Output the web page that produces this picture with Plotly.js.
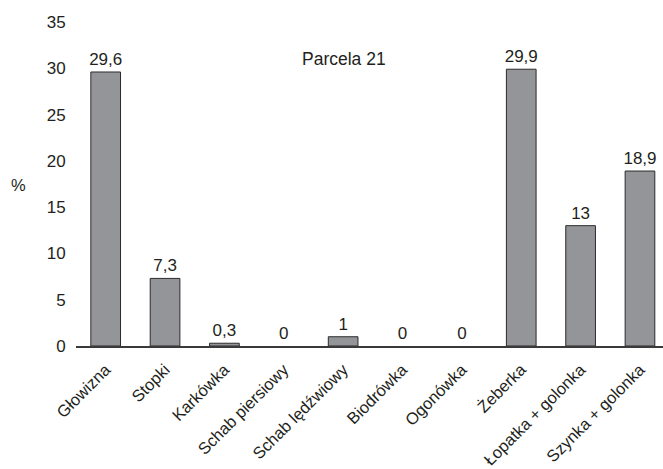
<!DOCTYPE html>
<html>
<head>
<meta charset="utf-8">
<script src="https://cdn.plot.ly/plotly-3.0.1.min.js"></script>
<style>html,body{margin:0;padding:0;background:#fff;}#chart{width:663px;height:469px;}</style>
</head>
<body>
<div id="chart"></div>
<script>
const categories = ["Głowizna","Stopki","Karkówka","Schab piersiowy","Schab lędźwiowy","Biodrówka","Ogonówka","Żeberka","Łopatka + golonka","Szynka + golonka"];
const values = [29.6, 7.3, 0.3, 0, 1, 0, 0, 29.9, 13, 18.9];
const yTicks = [0, 5, 10, 15, 20, 25, 30, 35];
const chartTitle = "Parcela 21";
const yLabel = "%";

const labels = values.map(v => String(v).replace('.', ','));
const idx = categories.map((c, i) => i);
const outlineWidths = values.map(v => v === 0 ? 0 : 1);

const trace = {
  type: 'bar',
  x: idx,
  y: values,
  text: labels,
  textposition: 'outside',
  constraintext: 'none',
  cliponaxis: false,
  textfont: {family: 'Liberation Sans, Arial, sans-serif', size: 17, color: '#231f20'},
  marker: {color: '#939598', line: {color: '#2b2b2b', width: outlineWidths}},
  hoverinfo: 'none'
};

const layout = {
  width: 663, height: 469,
  margin: {l: 76, r: 0, t: 22, b: 123},
  paper_bgcolor: '#fff', plot_bgcolor: '#fff',
  font: {family: 'Liberation Sans, Arial, sans-serif', color: '#231f20', size: 17},
  showlegend: false,
  bargap: 0.5,
  xaxis: {
    tickmode: 'array', tickvals: idx, ticktext: categories,
    range: [-0.5, 9.388], tickangle: -45,
    showline: true, linecolor: '#3a3a3a', linewidth: 1.5,
    showgrid: false, zeroline: false,
    ticks: 'outside', ticklen: 6, tickcolor: 'rgba(0,0,0,0)',
    tickfont: {size: 16.5}
  },
  yaxis: {
    range: [0, 35], tickmode: 'array', tickvals: yTicks,
    showline: false, showgrid: false, zeroline: false,
    ticks: 'outside', ticklen: 6, tickcolor: 'rgba(0,0,0,0)',
    tickfont: {size: 17}
  },
  annotations: [
    {text: chartTitle, x: (344 - 76) / 587, xref: 'paper', y: 31, yref: 'y', showarrow: false,
     font: {size: 17.5}, xanchor: 'center', yanchor: 'middle'},
    {text: yLabel, x: (18 - 76) / 587, xref: 'paper', y: 17.4, yref: 'y', showarrow: false,
     font: {size: 16.5}, xanchor: 'center', yanchor: 'middle'}
  ]
};

Plotly.newPlot('chart', [trace], layout, {displayModeBar: false, staticPlot: true});
</script>
</body>
</html>
